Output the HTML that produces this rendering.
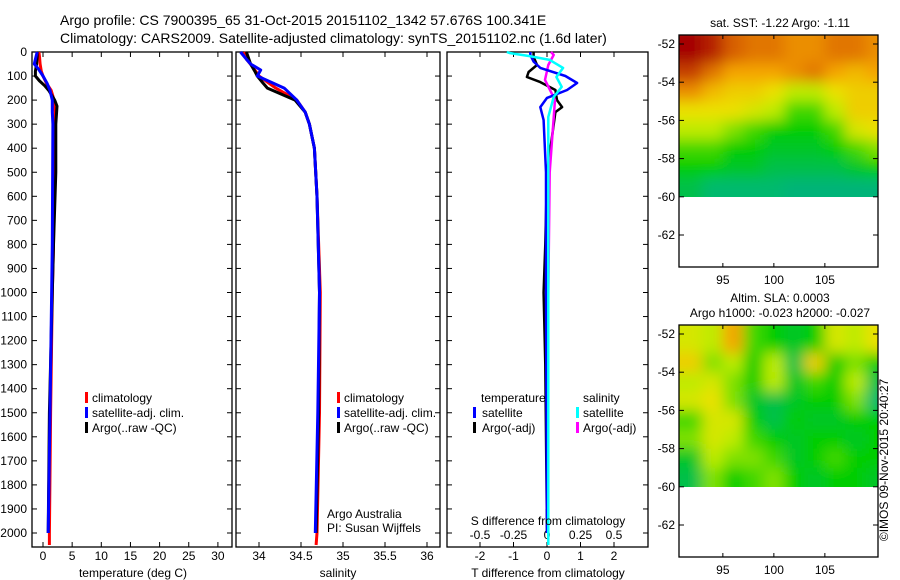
<!DOCTYPE html>
<html><head><meta charset="utf-8">
<style>
html,body{margin:0;padding:0;background:#fff;}
svg{display:block;font-family:"Liberation Sans",sans-serif;}
text{fill:#000;}
</style></head>
<body>
<svg id="fig" width="900" height="580" viewBox="0 0 900 580">
<defs>
<filter id="blur" x="0" y="0" width="1" height="1"><feGaussianBlur stdDeviation="7"/></filter>
<clipPath id="clip1"><rect x="679" y="35" width="199" height="162"/></clipPath>
<clipPath id="clip2"><rect x="679" y="325" width="199" height="162"/></clipPath>
</defs>
<text x="60" y="25" font-size="14">Argo profile: CS 7900395_65 31-Oct-2015 20151102_1342 57.676S 100.341E</text>
<text x="60" y="43" font-size="14">Climatology: CARS2009. Satellite-adjusted climatology: synTS_20151102.nc (1.6d later)</text>
<g id="g"></g>
</svg>
<script>
// ---- data ----
const depthTicks=[0,100,200,300,400,500,600,700,800,900,1000,1100,1200,1300,1400,1500,1600,1700,1800,1900,2000];
const tTicks=[0,5,10,15,20,25,30];
const sTicks=[34,34.5,35,35.5,36];
const sTickLabels=["34","34.5","35","35.5","36"];
const dTTicks=[-2,-1,0,1,2];
const dSTicks=[-0.5,-0.25,0,0.25,0.5];
const dSTickLabels=["-0.5","-0.25","0","0.25","0.5"];
// temperature profiles
const climT_depth=[0,20,50,80,100,130,160,200,250,300,500,800,1000,1500,2000,2050];
const climT=[-0.7,-0.6,-0.5,-0.3,0.0,0.6,1.4,1.9,2.1,2.0,1.9,1.8,1.6,1.3,1.1,1.1];
const satT_depth=[0,20,50,70,100,130,160,200,250,300,800,1500,2000];
const satT=[-1.0,-1.2,-1.5,-0.8,0.0,0.7,1.2,1.6,1.6,1.7,1.6,1.2,0.9];
const argoT_depth=[0,20,50,80,100,120,140,160,200,225,300,500,800,1000,1500,2000];
const argoT=[-1.0,-1.0,-1.1,-1.3,-1.3,-0.6,0.3,1.0,2.0,2.4,2.2,2.2,1.8,1.6,1.1,0.9];
// salinity profiles
const climS_depth=[0,30,60,100,150,200,250,300,400,600,1000,1500,2000,2050];
const climS=[33.82,33.85,33.92,34.0,34.2,34.45,34.55,34.6,34.66,34.69,34.73,34.72,34.69,34.68];
const satS_depth=[0,30,50,75,100,150,200,250,300,400,600,1000,1500,2000];
const satS=[33.78,33.85,33.9,34.02,33.98,34.3,34.45,34.55,34.6,34.66,34.69,34.72,34.7,34.67];
const argoS_depth=[0,50,80,100,130,150,200,250,300,400,600,1000,1500,2000];
const argoS=[33.85,33.9,33.95,33.98,34.05,34.1,34.43,34.55,34.6,34.66,34.69,34.72,34.71,34.68];
// difference profiles
const dTsat_depth=[0,12,40,66,100,129,158,191,229,283,500,1000,2000];
const dTsat=[-0.5,-0.5,-0.4,-0.2,0.55,0.9,0.6,0.0,-0.2,-0.1,-0.03,-0.03,0.0];
const dTargo_depth=[0,20,54,83,104,125,158,200,229,250,353,500,800,1000,1300,2000];
const dTargo=[-0.4,-0.4,-0.3,-0.55,-0.6,-0.2,0.25,0.3,0.45,0.25,0.15,0.0,-0.05,-0.1,-0.05,0.0];
const dSsat_depth=[0,4,17,33,66,104,145,187,270,1000,2050];
const dSsat=[-0.3,-0.28,-0.13,0.02,0.12,0.07,0.11,0.05,0.01,0.01,0.01];
const dSargo_depth=[0,12,54,116,200,312,500,1000,1900];
const dSargo=[0.03,0.05,0.01,-0.015,0.06,0.045,0.02,0.01,0.0];
// maps
const latTicks=[-52,-54,-56,-58,-60,-62];
const lonTicks=[95,100,105];
const mapLon0=91, mapDLon=2, mapLat0=-52, mapDLat=1;
const sstGrid=[
[1.0,0.95,0.85,0.8,0.8,0.75,0.75,0.8,0.8,0.75],
[0.9,0.8,0.7,0.7,0.7,0.75,0.8,0.7,0.65,0.7],
[0.75,0.65,0.6,0.6,0.55,0.45,0.45,0.55,0.6,0.6],
[0.55,0.55,0.55,0.5,0.45,0.35,0.35,0.45,0.6,0.6],
[0.45,0.45,0.4,0.35,0.3,0.3,0.3,0.35,0.5,0.55],
[0.35,0.35,0.3,0.3,0.25,0.25,0.25,0.3,0.35,0.4],
[0.3,0.3,0.25,0.25,0.2,0.2,0.2,0.2,0.25,0.3],
[0.2,0.15,0.15,0.15,0.15,0.1,0.1,0.1,0.1,0.1]];
const slaGrid=[
[0.5,0.45,0.7,0.35,0.3,0.25,0.3,0.5,0.45,0.55],
[0.6,0.4,0.45,0.3,0.45,0.2,0.6,0.3,0.4,0.3],
[0.45,0.5,0.4,0.3,0.45,0.25,0.35,0.3,0.45,0.2],
[0.5,0.55,0.4,0.25,0.2,0.25,0.3,0.3,0.4,0.15],
[0.35,0.5,0.5,0.3,0.2,0.3,0.25,0.25,0.3,0.3],
[0.4,0.5,0.45,0.35,0.3,0.25,0.3,0.3,0.25,0.3],
[0.25,0.45,0.4,0.4,0.35,0.25,0.3,0.35,0.3,0.3],
[0.2,0.4,0.3,0.35,0.4,0.3,0.25,0.3,0.3,0.25]];

// ---- helpers ----
const NS="http://www.w3.org/2000/svg";
const G=document.getElementById('g');
function mk(tag,attrs,parent){const e=document.createElementNS(NS,tag);for(const k in attrs)e.setAttribute(k,attrs[k]);(parent||G).appendChild(e);return e;}
const yTop=52, pxPerM=0.2405, yBot=547;
const yD=d=>yTop+d*pxPerM;
const xT=v=>43+v*5.83;
const xS=v=>259+(v-34)*84;
const xDT=v=>547+v*33.5;
const xDS=v=>547+v*134;

function frame(x0,x1,name){
  const r=mk('rect',{x:x0,y:yTop,width:x1-x0,height:yBot-yTop,fill:'none',stroke:'#000','stroke-width':1.3});
  
  
  depthTicks.forEach(d=>{
    mk('line',{x1:x0,x2:x0+5,y1:yD(d),y2:yD(d),stroke:'#000'});
    mk('line',{x1:x1-5,x2:x1,y1:yD(d),y2:yD(d),stroke:'#000'});
  });
}
function xticks(vals,labels,fx,x0,x1,ylab){
  vals.forEach((v,i)=>{
    const x=fx(v);
    mk('line',{x1:x,x2:x,y1:yTop,y2:yTop+5,stroke:'#000'});
    mk('line',{x1:x,x2:x,y1:yBot-5,y2:yBot,stroke:'#000'});
    const t=mk('text',{x:x,y:ylab,'font-size':12,'text-anchor':'middle'});
    t.textContent=labels[i];
    
    
  });
}
function line(xs,ds,fx,color,name,w){
  const pts=xs.map((v,i)=>fx(v).toFixed(1)+','+yD(ds[i]).toFixed(1)).join(' ');
  const p=mk('polyline',{points:pts,fill:'none',stroke:color,'stroke-width':w||3,'stroke-linejoin':'round'});
  
  
}
function txt(x,y,s,name,size,anchor){
  const t=mk('text',{x:x,y:y,'font-size':size||12,'text-anchor':anchor||'start'});
  t.textContent=s;
  
  
  return t;
}
function marker(x,y,color){const r=mk('rect',{x:x,y:y-10,width:3,height:11,fill:color});}

depthTicks.forEach(d=>{txt(27,yD(d)+4,String(d),'y-tick-label',12,'end');});

// panel 1 temperature
frame(32,232,'temperature-panel');
xticks(tTicks,tTicks.map(String),xT,32,232,560);
line(climT,climT_depth,xT,'#f00','climatology-temperature-line');
line(argoT,argoT_depth,xT,'#000','argo-temperature-line');
line(satT,satT_depth,xT,'#00f','satellite-temperature-line');
txt(133,577,'temperature (deg C)','x-axis-title-temperature',12,'middle');
marker(85,402,'#f00');txt(92,402,'climatology','legend-entry-climatology');
marker(85,417,'#00f');txt(92,417,'satellite-adj. clim.','legend-entry-satellite');
marker(85,432,'#000');txt(92,432,'Argo(..raw -QC)','legend-entry-argo');

// panel 2 salinity
frame(236,440,'salinity-panel');
xticks(sTicks,sTickLabels,xS,236,440,560);
line(climS,climS_depth,xS,'#f00','climatology-salinity-line');
line(argoS,argoS_depth,xS,'#000','argo-salinity-line');
line(satS,satS_depth,xS,'#00f','satellite-salinity-line');
txt(338,577,'salinity','x-axis-title-salinity',12,'middle');
marker(337,402,'#f00');txt(344,402,'climatology','legend-entry-climatology-s');
marker(337,417,'#00f');txt(344,417,'satellite-adj. clim.','legend-entry-satellite-s');
marker(337,432,'#000');txt(344,432,'Argo(..raw -QC)','legend-entry-argo-s');
txt(327,518,'Argo Australia','data-source-label');
txt(327,532,'PI: Susan Wijffels','pi-label');

// panel 3 differences
frame(447,648,'difference-panel');
xticks(dTTicks,dTTicks.map(String),xDT,447,648,560);
dSTicks.forEach((v,i)=>{txt(xDS(v),539,dSTickLabels[i],'s-tick-label',12,'middle');});
line(dTargo,dTargo_depth,xDT,'#000','argo-t-diff-line',2.5);
line(dSargo,dSargo_depth,xDS,'#f0f','argo-s-diff-line',2.5);
line(dTsat,dTsat_depth,xDT,'#00f','satellite-t-diff-line',2.5);
line(dSsat,dSsat_depth,xDS,'#0ff','satellite-s-diff-line',2.5);
txt(548,577,'T difference from climatology','x-axis-title-t-diff',12,'middle');
txt(548,525,'S difference from climatology','x-axis-title-s-diff',12,'middle');
txt(481,402,'temperature','legend-title-temperature');
txt(583,402,'salinity','legend-title-salinity');
marker(473,417,'#00f');txt(482,417,'satellite','legend-entry-t-satellite');
marker(473,432,'#000');txt(482,432,'Argo(-adj)','legend-entry-t-argo');
marker(576,417,'#0ff');txt(583,417,'satellite','legend-entry-s-satellite');
marker(576,432,'#f0f');txt(583,432,'Argo(-adj)','legend-entry-s-argo');

// maps
const stops=[[0,[0,170,140]],[0.15,[0,185,110]],[0.3,[0,205,0]],[0.45,[190,235,0]],[0.55,[235,225,0]],[0.7,[245,165,0]],[0.85,[215,95,0]],[1,[165,0,0]]];
function cmap(v){for(let i=1;i<stops.length;i++){if(v<=stops[i][0]){const a=stops[i-1],b=stops[i];const f=(v-a[0])/(b[0]-a[0]);const c=a[1].map((x,j)=>Math.round(x+(b[1][j]-x)*f));return 'rgb('+c+')';}}return 'rgb(165,0,0)';}
function map(y0,grid,clip,name){
  const lx=v=>679+(v-90.7)*10.2;
  const ly=v=>y0+9+(-52-v)*19.1;
  const cg=mk('g',{'clip-path':'url(#'+clip+')'});
  const bg=mk('g',{filter:'url(#blur)'},cg);
  grid.forEach((row,r)=>row.forEach((v,c)=>{
    const x=lx(mapLon0+c*mapDLon), y=ly(mapLat0-r*mapDLat);
    const cell=mk('rect',{x:x-(c==0?20:0),y:y-(r==0?20:0),width:lx(mapLon0+(c+1)*mapDLon)-x+1+(c==0?20:0)+(c==row.length-1?20:0),height:ly(mapLat0-(r+1)*mapDLat)-y+1+(r==0?20:0)+(r==grid.length-1?20:0),fill:cmap(v)},bg);
    
    
  }));
  const f=mk('rect',{x:679,y:y0,width:199,height:232,fill:'none',stroke:'#000','stroke-width':1.3});
  
  
  latTicks.forEach(l=>{const y=ly(l);mk('line',{x1:679,x2:684,y1:y,y2:y,stroke:'#000'});mk('line',{x1:873,x2:878,y1:y,y2:y,stroke:'#000'});txt(675,y+4,String(l),'lat-tick-label',12,'end');});
  lonTicks.forEach(l=>{const x=lx(l);mk('line',{x1:x,x2:x,y1:y0,y2:y0+4,stroke:'#000'});mk('line',{x1:x,x2:x,y1:y0+228,y2:y0+232,stroke:'#000'});txt(x,y0+249,String(l),'lon-tick-label',12,'middle');});
}
map(35,sstGrid,'clip1','sst-map');
map(325,slaGrid,'clip2','sla-map');
txt(780,27,'sat. SST: -1.22  Argo: -1.11','sst-map-title',12,'middle');
txt(780,302,'Altim. SLA: 0.0003','sla-map-title',12,'middle');
txt(780,317,'Argo h1000: -0.023 h2000: -0.027','sla-map-subtitle',12,'middle');
const c=txt(0,0,'©IMOS 09-Nov-2015 20:40:27','imos-credit',12,'middle');
c.setAttribute('transform','translate(888,460) rotate(-90)');
</script>
</body></html>
